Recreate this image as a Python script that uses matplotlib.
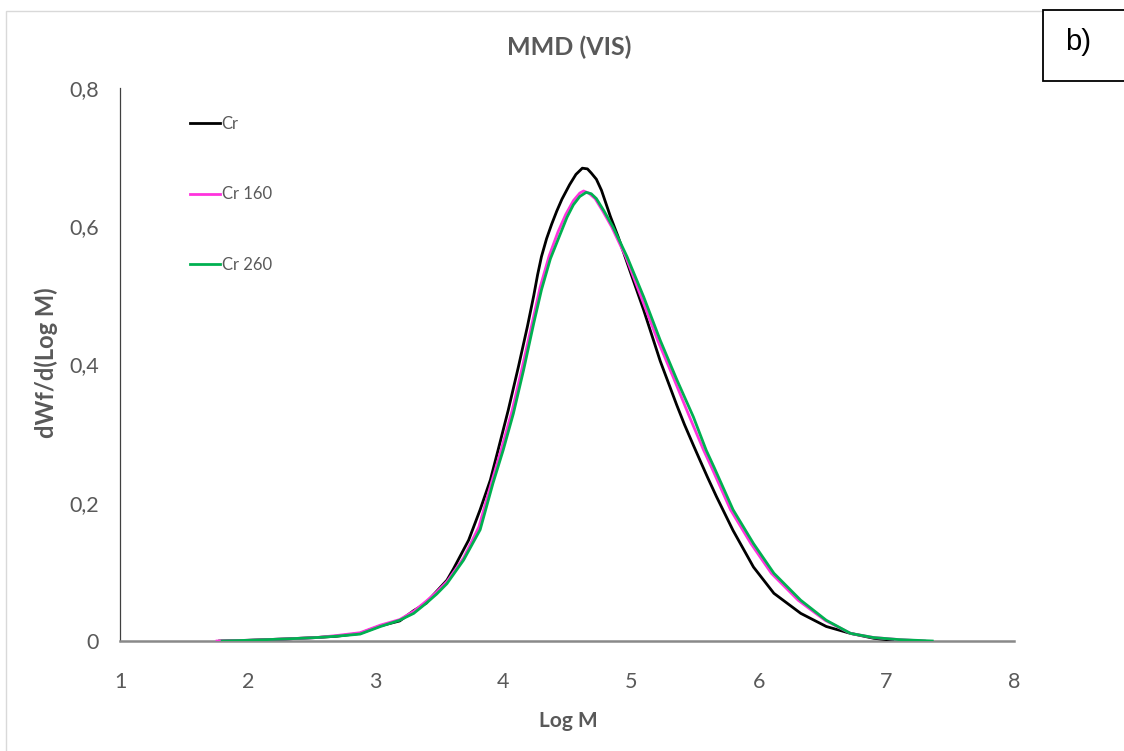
import matplotlib
matplotlib.use("Agg")
import matplotlib.pyplot as plt
from matplotlib.patches import Rectangle

plt.rcParams['font.family'] = ['Lato', 'DejaVu Sans']

# ---- data ----
cr_x = [1.78, 2.0, 2.15, 2.3, 2.54, 2.7, 2.88, 3.04, 3.19, 3.30, 3.40, 3.45, 3.56, 3.61, 3.73,
        3.82, 3.90, 3.96, 4.04, 4.12, 4.19, 4.24, 4.27, 4.30, 4.34, 4.38, 4.42, 4.46, 4.52, 4.57,
        4.62, 4.66, 4.69, 4.73, 4.77, 4.84, 4.90, 4.99, 5.10, 5.23, 5.36, 5.42, 5.49, 5.54, 5.60,
        5.67, 5.80, 5.96, 6.12, 6.33, 6.53, 6.72, 6.90, 7.05]
cr_y = [0.000, 0.001, 0.002, 0.003, 0.005, 0.007, 0.011, 0.022, 0.029, 0.044, 0.055, 0.066, 0.088,
        0.104, 0.146, 0.190, 0.233, 0.276, 0.334, 0.397, 0.455, 0.500, 0.530, 0.556, 0.582, 0.603,
        0.622, 0.639, 0.660, 0.675, 0.684, 0.683, 0.677, 0.668, 0.652, 0.614, 0.585, 0.537, 0.479,
        0.405, 0.341, 0.313, 0.283, 0.262, 0.237, 0.209, 0.160, 0.107, 0.069, 0.040, 0.021, 0.011,
        0.004, 0.001]

cr160_x = [1.76, 2.0, 2.15, 2.3, 2.54, 2.7, 2.88, 3.04, 3.19, 3.30, 3.40, 3.48, 3.56, 3.69, 3.81,
           3.91, 3.99, 4.07, 4.15, 4.23, 4.29, 4.36, 4.43, 4.49, 4.55, 4.60, 4.63, 4.67, 4.72, 4.78,
           4.85, 4.96, 5.08, 5.21, 5.34, 5.46, 5.57, 5.63, 5.78, 5.94, 6.10, 6.31, 6.52, 6.72, 6.90,
           7.10, 7.30]
cr160_y = [0.000, 0.001, 0.002, 0.003, 0.005, 0.008, 0.012, 0.023, 0.031, 0.043, 0.058, 0.071,
           0.086, 0.120, 0.165, 0.230, 0.280, 0.333, 0.396, 0.462, 0.512, 0.557, 0.592, 0.617, 0.637,
           0.648, 0.651, 0.648, 0.640, 0.622, 0.599, 0.556, 0.498, 0.435, 0.378, 0.324, 0.276, 0.252,
           0.190, 0.141, 0.098, 0.059, 0.030, 0.011, 0.005, 0.002, 0.000]

cr260_x = [1.80, 2.0, 2.15, 2.3, 2.54, 2.7, 2.88, 3.04, 3.19, 3.30, 3.40, 3.48, 3.56, 3.69, 3.82,
           3.92, 4.00, 4.08, 4.16, 4.24, 4.30, 4.37, 4.45, 4.50, 4.55, 4.60, 4.65, 4.69, 4.73, 4.79,
           4.86, 4.97, 5.10, 5.23, 5.36, 5.49, 5.59, 5.65, 5.80, 5.96, 6.12, 6.33, 6.53, 6.72, 6.90,
           7.10, 7.36]
cr260_y = [0.000, 0.001, 0.002, 0.003, 0.005, 0.007, 0.010, 0.021, 0.030, 0.040, 0.055, 0.068,
           0.083, 0.117, 0.161, 0.228, 0.276, 0.329, 0.392, 0.460, 0.508, 0.553, 0.590, 0.613, 0.631,
           0.643, 0.649, 0.647, 0.640, 0.622, 0.599, 0.556, 0.498, 0.435, 0.378, 0.324, 0.276, 0.252,
           0.190, 0.141, 0.098, 0.059, 0.030, 0.011, 0.005, 0.002, 0.000]

series_labels = ["Cr", "Cr 160", "Cr 260"]
x_ticks = [1, 2, 3, 4, 5, 6, 7, 8]
y_ticks = [0, 0.2, 0.4, 0.6, 0.8]
y_tick_labels = ["0", "0,2", "0,4", "0,6", "0,8"]
title = "MMD (VIS)"
x_label = "Log M"
y_label = "dWf/d(Log M)"
panel_label = "b)"

# ---- figure ----
W, H = 1124, 751
fig = plt.figure(figsize=(W / 100, H / 100), dpi=100)
ax = fig.add_axes([120 / W, 1 - 641 / H, (1014 - 120) / W, (641 - 88) / H])

# outer chart-area border
fig.patches.append(Rectangle((6 / W, -0.1), 1.2, 1.1 - 11 / H, transform=fig.transFigure,
                             fill=False, edgecolor='#d9d9d9', linewidth=1.0, zorder=0))

colors = ['#000000', '#ff33dd', '#00b050']
ax.plot(cr_x, cr_y, color=colors[0], lw=2.0, label=series_labels[0], zorder=3)
ax.plot(cr160_x, cr160_y, color=colors[1], lw=2.0, label=series_labels[1], zorder=4)
ax.plot(cr260_x, cr260_y, color=colors[2], lw=2.0, label=series_labels[2], zorder=5)

ax.set_xlim(1, 8)
ax.set_ylim(0, 0.8)
ax.set_xticks(x_ticks)
ax.set_xticklabels([str(v) for v in x_ticks])
ax.set_yticks(y_ticks)
ax.set_yticklabels(y_tick_labels)
ax.tick_params(axis='both', length=0, labelsize=15.5, labelcolor='#595959')
ax.tick_params(axis='x', pad=22)
ax.tick_params(axis='y', pad=15)

for s in ['top', 'right']:
    ax.spines[s].set_visible(False)
ax.spines['bottom'].set_color('#898989')
ax.spines['bottom'].set_linewidth(1.8)
ax.spines['left'].set_color('#404040')
ax.spines['left'].set_linewidth(0.9)

fig.text(569 / W, 1 - 47 / H, title, ha='center', va='center', fontsize=18,
         fontweight='bold', color='#595959')
fig.text(568 / W, 1 - 721 / H, x_label, ha='center', va='center', fontsize=15,
         fontweight='bold', color='#595959')
fig.text(46 / W, 1 - 363 / H, y_label, ha='center', va='center', fontsize=17,
         fontweight='bold', color='#595959', rotation=90)

leg = ax.legend(loc='upper left', bbox_to_anchor=((190 - 120) / 894, 1 - (116 - 88) / 553),
                frameon=False, fontsize=12, labelcolor='#595959', handlelength=1.8,
                handletextpad=0.1, labelspacing=3.27, borderaxespad=0, borderpad=0)

# panel label box
fig.patches.append(Rectangle((1043 / W, 1 - 81 / H), 100 / W, 71 / H, transform=fig.transFigure,
                             fill=True, facecolor='white', edgecolor='black', linewidth=1.3, zorder=5))
fig.text(1078 / W, 1 - 42 / H, panel_label, ha='center', va='center', fontsize=21,
         color='black', family='Liberation Sans', zorder=6)

fig.savefig('out.png', dpi=100)
